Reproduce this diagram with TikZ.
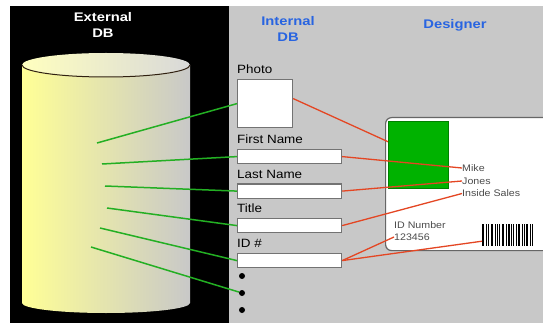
\documentclass[tikz,border=0pt]{standalone}
\usepackage{fontspec}
\setmainfont{Liberation Sans}
\newfontfamily\labelfont[FakeStretch=1.12]{Liberation Sans}
\newfontfamily\headfont[FakeStretch=1.18]{Liberation Sans}
\usetikzlibrary{positioning}
\definecolor{dbgray}{RGB}{200,200,200}
\definecolor{dbblue}{RGB}{40,100,225}
\definecolor{linkred}{RGB}{228,70,35}
\definecolor{linkgreen}{RGB}{35,175,35}
\definecolor{picgreen}{RGB}{0,178,0}
\definecolor{cylyellow}{RGB}{255,255,150}
\begin{document}
\begin{tikzpicture}[x=1pt,y=1pt,
        field/.style={draw=black!55, line width=1.2pt, fill=white, minimum width=104pt, minimum height=14pt, inner sep=0pt, anchor=north west},
        fieldname/.style={font=\labelfont\fontsize{12}{14}\selectfont, inner sep=0pt},
        cardtext/.style={font=\labelfont\fontsize{9.5}{11}\selectfont, text=black!70, anchor=west, inner sep=0pt},
        heading/.style={font=\headfont\fontsize{12.5}{16.5}\selectfont\bfseries, align=center},
        greenlink/.style={draw=linkgreen, line width=1.5pt},
        redlink/.style={draw=linkred, line width=1.3pt},
        bullet/.style={circle, fill=black, inner sep=0pt, minimum size=6pt}]
    \useasboundingbox (0,0) rectangle (543,-323);
    \clip (0,0) rectangle (543,-323);
    \fill[white] (0,0) rectangle (543,-323);
    \fill[black] (10,-6) rectangle (229,-323);
    \fill[dbgray] (229,-6) rectangle (543,-323);
    % external database
    \shade[left color=cylyellow, right color=dbgray] (22,-65) -- (22,-303) arc[start angle=180, end angle=360, x radius=84, y radius=10] -- (190,-65) -- cycle;
    \shade[left color=yellow!25!white, right color=black!15] (106,-65) ellipse[x radius=84, y radius=12];
    \draw[black!75!brown, line width=1pt] (22,-65) arc[start angle=180, end angle=360, x radius=84, y radius=12];
    \node[heading, text=white] (extdb) at (103,-25) {External\\DB};
    \node[heading, text=dbblue] (intdb) at (288,-29) {Internal\\DB};
    \node[heading, text=dbblue] (designer) at (455,-25) {Designer};
    \coordinate (e1) at (97,-143);
    \coordinate (e2) at (102,-164);
    \coordinate (e3) at (105,-186);
    \coordinate (e4) at (107,-208);
    \coordinate (e5) at (100,-228);
    \coordinate (e6) at (91,-247);
    % internal database fields
    \node[draw=black!55, line width=1.2pt, fill=white, minimum width=55pt, minimum height=48pt, anchor=north west] (photo) at (237,-79) {};
    \node[field] (first) at (237,-149) {};
    \node[field] (last) at (237,-183.5) {};
    \node[field] (title) at (237,-218) {};
    \node[field] (idbox) at (237,-253) {};
    \node[fieldname, above right=5pt and 0pt of photo.north west] (photolbl) {Photo};
    \node[fieldname, above right=5pt and 0pt of first.north west] (firstlbl) {First Name};
    \node[fieldname, above right=5pt and 0pt of last.north west] (lastlbl) {Last Name};
    \node[fieldname, above right=5pt and 0pt of title.north west] (titlelbl) {Title};
    \node[fieldname, above right=5pt and 0pt of idbox.north west] (idlbl) {ID \#};
    \foreach \i/\y in {1/276,2/293,3/310}
        \node[bullet] (dot\i) at (242,-\y) {};
    % badge
    \node[draw=black!60, line width=1.2pt, fill=white, rounded corners=6pt, minimum width=175pt, minimum height=133pt, anchor=north west] (card) at (385,-117) {};
    \node[draw=black!50!green, fill=picgreen, minimum width=60pt, minimum height=67pt, inner sep=0pt, anchor=north west] (pic) at (388,-121) {};
    \node[cardtext] (mike) at (462,-168) {Mike};
    \node[cardtext] (jones) at (462,-181) {Jones};
    \node[cardtext] (sales) at (462,-193.5) {Inside Sales};
    \node[cardtext] (idtxt) at (394,-225) {ID Number};
    \node[cardtext] (idnum) at (394,-237) {123456};
    \node[minimum width=51pt, minimum height=22pt, inner sep=0pt, anchor=north west] (barcode) at (482,-224) {};
    \foreach \x/\w in {0/2,3.5/1,6/1,8.5/2.5,12.5/1,14.5/1,17/1,19.5/2.5,23.5/1,25.5/2,29/1,31/1,33.5/1,35.5/2.5,39.5/1,41.5/1,44/2,47.5/1,49.5/1.5}
        \fill ([xshift=\x pt]barcode.north west) rectangle ++(\w,-22);
    % links
    \draw[greenlink] (e1) -- (photo.west);
    \draw[greenlink] (e2) -- (first.west);
    \draw[greenlink] (e3) -- (last.west);
    \draw[greenlink] (e4) -- (title.west);
    \draw[greenlink] (e5) -- (idbox.west);
    \draw[greenlink] (e6) -- (dot2);
    \draw[redlink] ([yshift=5pt]photo.east) -- ([yshift=13pt]pic.west);
    \draw[redlink] (first.east) -- (mike.west);
    \draw[redlink] (last.east) -- (jones.west);
    \draw[redlink] (title.east) -- (sales.west);
    \draw[redlink] (idbox.east) -- (idnum.west);
    \draw[redlink] (idbox.east) -- ([yshift=-6pt]barcode.west);
\end{tikzpicture}
\end{document}
